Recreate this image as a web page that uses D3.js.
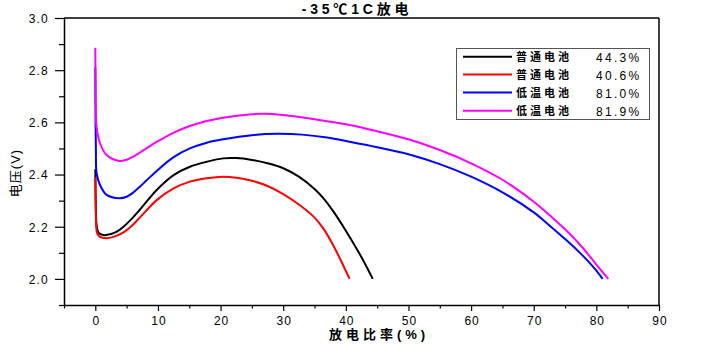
<!DOCTYPE html>
<html><head><meta charset="utf-8">
<script src="https://cdn.jsdelivr.net/npm/d3@7"></script>
<style>body{margin:0;background:#fff}svg{display:block}text{font-family:Arial,"Liberation Sans","Noto Sans CJK SC",sans-serif}</style>
</head><body>
<script>
const titleText = "-35℃1C放电";
const xTitle = "放电比率(%)";
const yTitle = "电压(V)";
const xMajorTicks = [0,10,20,30,40,50,60,70,80,90];
const xMinorTicks = [-5,5,15,25,35,45,55,65,75,85];
const yMajorTicks = [2.0,2.2,2.4,2.6,2.8,3.0];
const yTickLabels = ["2.0","2.2","2.4","2.6","2.8","3.0"];
const yMinorTicks = [1.9,2.1,2.3,2.5,2.7,2.9];

const seriesNames = ["普通电池","普通电池","低温电池","低温电池"];
const seriesPct = ["44.3%","40.6%","81.0%","81.9%"];
const seriesColors = ["#000000","#ff0000","#0000ff","#ff00ff"];

const blackX = [0,0.03,0.08,0.15,0.3,0.6,1.3,2.5,3.5,4.5,5.8,7.1,9.8,12.5,15.1,17.8,20.4,22.5,25,27.5,30,32.5,35,36.5,38,39.5,40.6,42.5,44.3];
const blackY = [2.42,2.36,2.28,2.22,2.19,2.175,2.168,2.172,2.182,2.2,2.23,2.265,2.341,2.398,2.43,2.449,2.462,2.463,2.456,2.443,2.424,2.392,2.345,2.307,2.259,2.204,2.161,2.083,2.0];
const redX = [0,0.03,0.08,0.15,0.3,0.7,1.8,3,4.5,5.8,7.1,9.8,12.5,15.1,17.8,20.4,22.5,25,27.5,30,32.5,35,36.5,38,39.3,40.6];
const redY = [2.39,2.32,2.25,2.2,2.175,2.162,2.156,2.162,2.178,2.203,2.235,2.302,2.347,2.373,2.386,2.392,2.388,2.376,2.356,2.325,2.285,2.235,2.19,2.128,2.066,2.0];
const blueX = [0,0.02,0.05,0.1,0.2,0.75,1.8,3.9,5,6,7.1,8.2,9.8,12.45,15.1,17.8,20.4,25,29,33,37,40.6,45,50,55,60,65,70,72.5,75,77.5,80,81];
const blueY = [2.81,2.7,2.58,2.48,2.405,2.36,2.322,2.309,2.315,2.33,2.353,2.378,2.414,2.466,2.5,2.522,2.535,2.551,2.556,2.553,2.542,2.526,2.505,2.478,2.44,2.392,2.332,2.255,2.205,2.153,2.097,2.032,2.0];
const magentaX = [0,0.02,0.05,0.1,0.2,0.75,1.8,3.9,5,6,7.1,8.2,9.8,12.45,15.1,17.8,20.4,25,27,30,35,40.6,45,50,55,60,65,70,72.5,75,77.5,80,81.9];
const magentaY = [2.886,2.8,2.7,2.63,2.583,2.52,2.475,2.452,2.457,2.468,2.484,2.501,2.525,2.56,2.586,2.605,2.618,2.631,2.633,2.628,2.612,2.59,2.566,2.535,2.494,2.443,2.38,2.296,2.245,2.19,2.128,2.055,2.0];

const series = [
  {xs: blackX, ys: blackY},
  {xs: redX, ys: redY},
  {xs: blueX, ys: blueY},
  {xs: magentaX, ys: magentaY}
];

const W = 703, H = 344;
const svg = d3.select("body").append("svg").attr("width", W).attr("height", H);
const x = d3.scaleLinear().domain([-5, 90]).range([64, 659]);
const y = d3.scaleLinear().domain([1.9, 3.0]).range([305, 18]);

// frame top & right
svg.append("line").attr("x1", 64).attr("x2", 659).attr("y1", 18).attr("y2", 18).attr("stroke", "#000").attr("stroke-width", 1.5);
svg.append("line").attr("x1", 659).attr("x2", 659).attr("y1", 18).attr("y2", 305).attr("stroke", "#000").attr("stroke-width", 1.5);

// bottom axis
const gx = svg.append("g").attr("transform", "translate(0,305)");
gx.call(d3.axisBottom(x).tickValues(xMajorTicks).tickSize(6).tickSizeOuter(0).tickFormat(d3.format("d")));
const gx2 = svg.append("g").attr("transform", "translate(0,305)");
gx2.call(d3.axisBottom(x).tickValues(xMinorTicks).tickSize(3.5).tickSizeOuter(0).tickFormat(""));
gx2.select(".domain").remove();

// left axis
const gy = svg.append("g").attr("transform", "translate(64,0)");
gy.call(d3.axisLeft(y).tickValues(yMajorTicks).tickSize(9).tickSizeOuter(0).tickFormat((d, i) => yTickLabels[i]));
const gy2 = svg.append("g").attr("transform", "translate(64,0)");
gy2.call(d3.axisLeft(y).tickValues(yMinorTicks).tickSize(5).tickSizeOuter(0).tickFormat(""));
gy2.select(".domain").remove();

svg.selectAll(".domain").attr("stroke", "#000").attr("stroke-width", 1.5);
svg.selectAll(".tick line").attr("stroke", "#000").attr("stroke-width", 1.2);
gx.selectAll(".tick text").attr("font-size", 12).attr("letter-spacing", "1px").attr("fill", "#000").attr("dy", "0.95em").attr("dx", "0.5px");
gy.selectAll(".tick text").attr("font-size", 12).attr("letter-spacing", "1.2px").attr("fill", "#000").attr("x", -15).attr("dy", "0.36em");
svg.selectAll(".tick text").attr("font-family", "Arial, 'Liberation Sans', sans-serif");

// lines
const line = d3.line().x(d => x(d[0])).y(d => y(d[1])).curve(d3.curveCatmullRom.alpha(0.5));
series.forEach((s, i) => {
  const pts = s.xs.map((v, j) => [v, s.ys[j]]);
  svg.append("path").datum(pts).attr("d", line).attr("fill", "none")
    .attr("stroke", seriesColors[i]).attr("stroke-width", 2);
});

// title
svg.append("text").attr("x", 357).attr("y", 14).attr("text-anchor", "middle")
  .attr("font-size", 14).attr("font-weight", "bold").attr("letter-spacing", "3.8px").text(titleText);
// x title
svg.append("text").attr("x", 379).attr("y", 339).attr("text-anchor", "middle")
  .attr("font-size", 13).attr("font-weight", "bold").attr("letter-spacing", "4px").text(xTitle);
// y title
svg.append("text").attr("transform", "translate(20,173) rotate(-90)").attr("text-anchor", "middle")
  .attr("font-size", 13).attr("letter-spacing", "1px").text(yTitle);

// legend
const lg = svg.append("g");
lg.append("rect").attr("x", 456.5).attr("y", 48.5).attr("width", 193).attr("height", 71)
  .attr("fill", "#fff").attr("stroke", "#555").attr("stroke-width", 1);
const rowY = [56.7, 74.5, 92.5, 110.7];
seriesNames.forEach((n, i) => {
  lg.append("line").attr("x1", 463).attr("x2", 512).attr("y1", rowY[i]).attr("y2", rowY[i])
    .attr("stroke", seriesColors[i]).attr("stroke-width", 2);
  lg.append("text").attr("x", 516).attr("y", rowY[i] + 4).attr("font-size", 11)
    .attr("font-weight", "bold").attr("letter-spacing", "3px").text(n);
  lg.append("text").attr("x", 596).attr("y", rowY[i] + 5).attr("font-size", 12)
    .attr("letter-spacing", "2.3px").text(seriesPct[i]);
});
</script>
</body></html>
